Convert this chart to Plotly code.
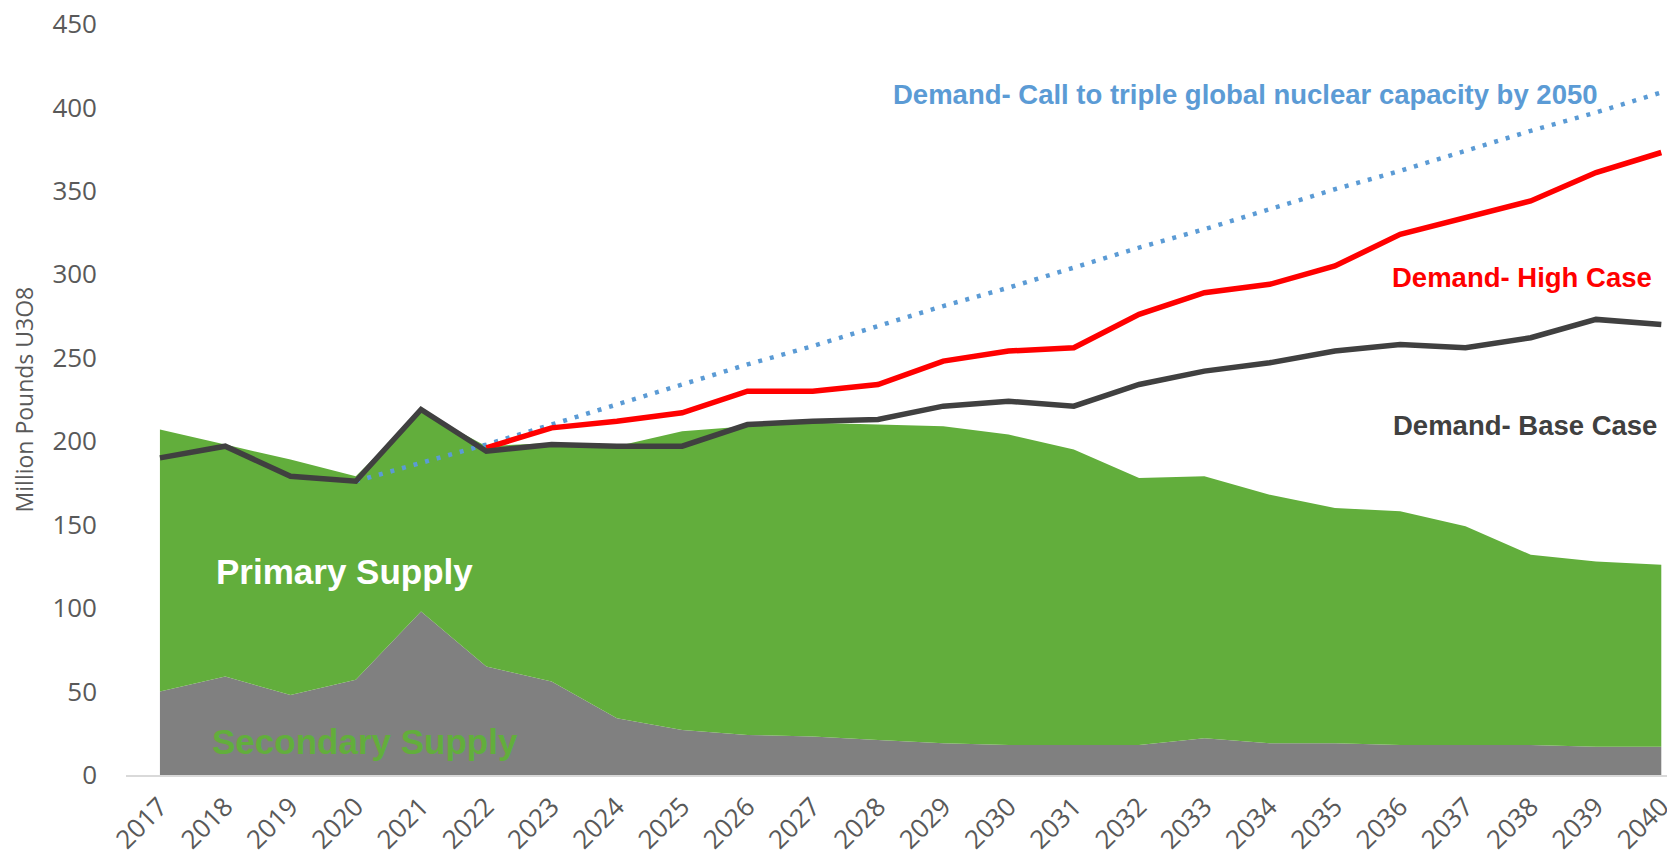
import plotly.graph_objects as go

years = list(range(2017, 2041))

secondary_supply = [50, 59, 48, 57, 98, 65, 56, 34, 27, 24, 23, 21, 19, 18, 18, 18,
                    22, 19, 19, 18, 18, 18, 17, 17]
total_supply = [207, 198, 189, 179, 218, 197, 199, 197, 206, 209, 211, 210, 209, 204,
                195, 178, 179, 168, 160, 158, 149, 132, 128, 126]
primary_supply = [t - s for t, s in zip(total_supply, secondary_supply)]

demand_base = [190, 197, 179, 176, 219, 194, 198, 197, 197, 210, 212, 213, 221, 224,
               221, 234, 242, 247, 254, 258, 256, 262, 273, 270]

years_high = list(range(2022, 2041))
demand_high = [196, 208, 212, 217, 230, 230, 234, 248, 254, 256, 276, 289, 294, 305,
               324, 334, 344, 361, 373]

years_triple = list(range(2020, 2041))
demand_triple = [176, 187, 198, 210, 222, 234, 246, 257, 269, 281, 292, 304, 316, 327,
                 339, 351, 362, 374, 386, 397, 409]

GREEN = "#62AE3C"
GREY = "#808080"
DARK = "#404040"
RED = "#FF0000"
BLUE = "#5B9BD5"
LABEL_FONT = "Liberation Sans, Arial, sans-serif"

fig = go.Figure()
fig.add_trace(go.Scatter(x=years, y=secondary_supply, stackgroup="supply", mode="none",
                         fillcolor=GREY, name="Secondary Supply"))
fig.add_trace(go.Scatter(x=years, y=primary_supply, stackgroup="supply", mode="none",
                         fillcolor=GREEN, name="Primary Supply"))
fig.add_trace(go.Scatter(x=years_triple, y=demand_triple, mode="lines",
                         line=dict(color=BLUE, width=4.5, dash="4px,8px"), name="Triple"))
fig.add_trace(go.Scatter(x=years_high, y=demand_high, mode="lines",
                         line=dict(color=RED, width=5.5), name="High"))
fig.add_trace(go.Scatter(x=years, y=demand_base, mode="lines",
                         line=dict(color=DARK, width=5.5), name="Base"))

# (text, x, y, anchor, colour, size)
labels = [
    ("Demand- Call to triple global nuclear capacity by 2050", 2039.04, 408, "right", BLUE, 27.5),
    ("Demand- High Case", 2039.87, 298.4, "right", RED, 27.5),
    ("Demand- Base Case", 2039.95, 209.4, "right", DARK, 27.5),
    ("Primary Supply", 2017.84, 121.9, "left", "white", 35),
    ("Secondary Supply", 2017.78, 19.8, "left", GREEN, 35),
]
for text, x, y, anchor, color, size in labels:
    fig.add_annotation(x=x, y=y, text="<b>%s</b>" % text, showarrow=False, xanchor=anchor,
                       yanchor="middle", borderpad=0,
                       font=dict(family=LABEL_FONT, size=size, color=color))

fig.add_annotation(x=-0.0659, y=0.5, xref="paper", yref="paper", text="Million Pounds U3O8",
                   textangle=-90, showarrow=False, xanchor="center", yanchor="middle",
                   font=dict(family="Open Sans", size=23, color="#595959"))

# the page body has an 8px margin, so the figure is 8px smaller than the window
fig.update_layout(
    width=1667,
    height=849,
    showlegend=False,
    plot_bgcolor="white",
    paper_bgcolor="white",
    margin=dict(l=118, r=0, t=16, b=82),
    font=dict(family="Open Sans", color="#595959"),
)
fig.update_xaxes(
    range=[2016.48, 2040.21],
    tickvals=years,
    tickangle=-45,
    tickfont=dict(size=26, color="#595959"),
    showgrid=False,
    showline=True,
    linecolor="#D9D9D9",
    linewidth=2,
    ticks="",
    ticklabelstandoff=4,
    ticklabeloverflow="allow",
    zeroline=False,
    automargin=False,
)
fig.update_yaxes(
    range=[0, 450],
    dtick=50,
    tickfont=dict(size=26, color="#595959"),
    showgrid=False,
    showline=False,
    zeroline=False,
    ticklabelstandoff=28,
    ticklabeloverflow="allow",
    automargin=False,
)

fig.write_html("out.html")
